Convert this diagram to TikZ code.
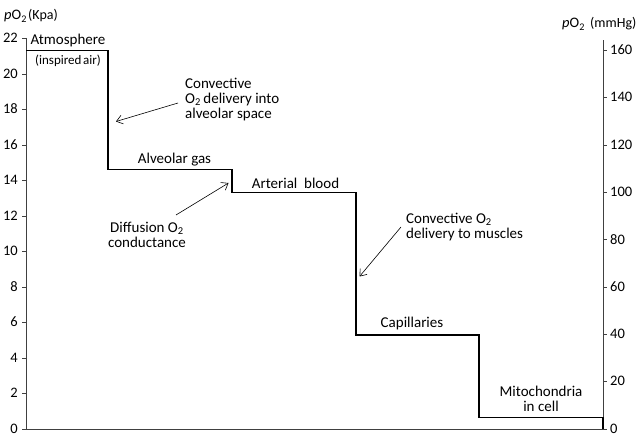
\documentclass[tikz,border=0pt]{standalone}
\usepackage{fontspec}
\setmainfont{Carlito}
\usetikzlibrary{arrows.meta}
\begin{document}
\begin{tikzpicture}[x=1pt,y=-1pt,
  lbl/.style={font=\fontsize{15}{14.6}\selectfont, inner sep=0pt},
  smalllbl/.style={font=\fontsize{13}{14}\selectfont, inner sep=0pt},
  ticklbl/.style={font=\fontsize{14.5}{14}\selectfont, inner sep=0pt},
  titlelbl/.style={font=\fontsize{14.5}{14}\selectfont, inner sep=0pt, anchor=base west},
  axisline/.style={draw=black!75, line width=0.8pt},
  stepline/.style={draw=black, line width=1.4pt, line join=miter},
  pointer/.style={draw=black, line width=0.6pt, -{Straight Barb[length=6pt,width=9pt]}},
]
\useasboundingbox (0,0) rectangle (642,435);

% axes
\coordinate (Ltop) at (26,38);
\coordinate (L0) at (26,429);
\coordinate (R0) at (603,429);
\coordinate (Rtop) at (603,40);
\draw[axisline] (Ltop) -- (L0) -- (R0) -- (Rtop);

\foreach \k in {0,2,...,22} {
  \draw[axisline] (22,{429-17.75*\k}) -- (26,{429-17.75*\k});
  \node[ticklbl, anchor=east] (lt\k) at (18,{428.5-17.75*\k}) {\k};
}
\foreach \m in {0,20,...,160} {
  \draw[axisline] (603,{429-2.3667*\m}) -- (607,{429-2.3667*\m});
  \node[ticklbl, anchor=west] (rt\m) at (610,{428.5-2.3667*\m}) {\m};
}

% axis titles
\node[titlelbl] (ltitle) at (4,20) {\textit{p}O\textsubscript{2}};
\node[titlelbl, font=\fontsize{14}{14}\selectfont] (lunit) at (28,20) {(Kpa)};
\node[titlelbl] (rtitle) at (562,28) {\textit{p}O\textsubscript{2}};
\node[titlelbl, font=\fontsize{14}{14}\selectfont] (runit) at (590,28) {(mmHg)};

% step line
\coordinate (s0) at (26,50.7);
\coordinate (s1) at (108,50.7);
\coordinate (s2) at (108,169.5);
\coordinate (s3) at (232,169.5);
\coordinate (s4) at (232,192.7);
\coordinate (s5) at (356,192.7);
\coordinate (s6) at (356,335);
\coordinate (s7) at (479,335);
\coordinate (s8) at (479,417.3);
\coordinate (s9) at (603,417.3);
\coordinate (s10) at (603,429);
\draw[stepline] (s0) -- (s1) -- (s2) -- (s3) -- (s4) -- (s5) -- (s6) -- (s7) -- (s8) -- (s9) -- (s10);

% labels
\node[lbl] (atm) at (68,41) {Atmosphere};
\node[smalllbl] (insp) at (68,61) {(inspired\hspace{0.12em}air)};
\node[lbl, align=left, anchor=west] (conv1) at (185,99.5)
  {Convective\\O\textsubscript{2}\,delivery into\\alveolar space};
\node[lbl] (alv) at (174.5,160) {Alveolar gas};
\node[lbl] (art) at (295.5,183) {Arterial\ \ blood};
\node[lbl, align=center] (diff) at (147,235) {Diffusion O\textsubscript{2}\\conductance};
\node[lbl, align=left, anchor=west] (conv2) at (406,227)
  {Convective O\textsubscript{2}\\delivery to muscles};
\node[lbl] (cap) at (412,324) {Capillaries};
\node[lbl, align=center] (mito) at (541,399) {Mitochondria\\in cell};

% pointers
\coordinate (a1s) at (178,103);
\coordinate (a1e) at (116,121.5);
\coordinate (a2s) at (176,215);
\coordinate (a2e) at (228.5,183);
\coordinate (a3s) at (401,227);
\coordinate (a3e) at (359.5,276.5);
\draw[pointer] (a1s) -- (a1e);
\draw[pointer] (a2s) -- (a2e);
\draw[pointer] (a3s) -- (a3e);
\end{tikzpicture}
\end{document}
